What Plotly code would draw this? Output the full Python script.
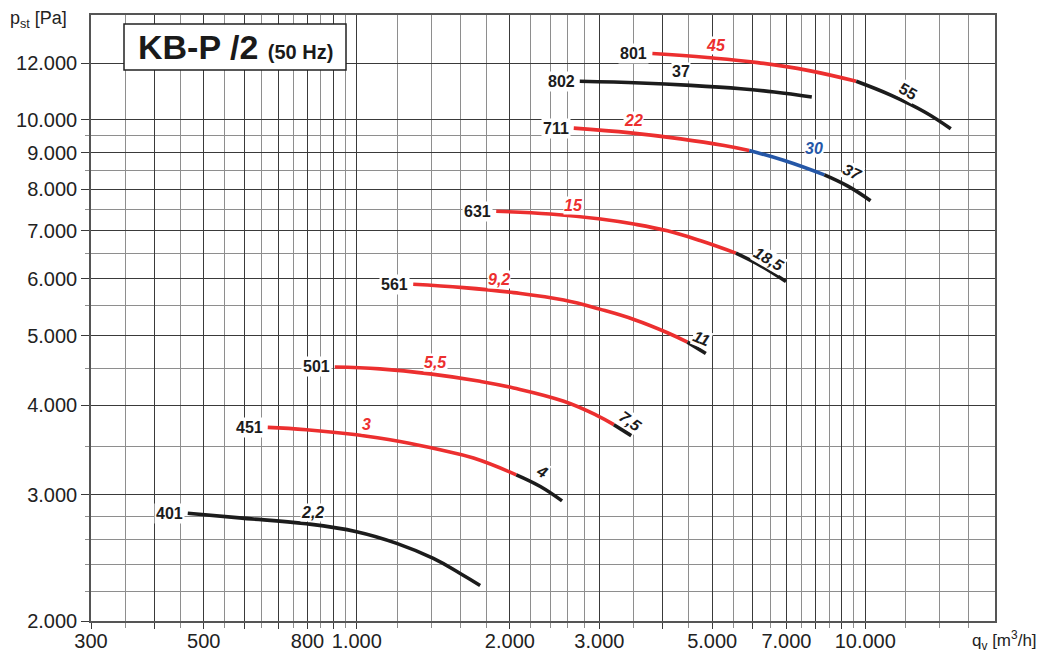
import numpy as np
import plotly.graph_objects as go

# ---------------- grid / tick values ----------------
x_major = [300, 400, 500, 600, 700, 800, 900, 1000, 2000, 3000, 4000, 5000,
           6000, 7000, 8000, 9000, 10000]
x_major_text = ["300", "", "500", "", "", "800", "", "1.000", "2.000", "3.000",
                "", "5.000", "", "7.000", "", "", "10.000"]
x_minor = [350, 450, 550, 650, 750, 850, 950, 1200, 1400, 1600, 1800, 2200,
           2400, 2600, 2800, 3500, 4500, 5500, 6500, 7500, 8500, 9500, 12000,
           14000, 16000]
y_major = [2000, 3000, 4000, 5000, 6000, 7000, 8000, 9000, 10000, 12000]
y_major_text = ["2.000", "3.000", "4.000", "5.000", "6.000", "7.000", "8.000",
                "9.000", "10.000", "12.000"]
y_minor = [2200, 2400, 2600, 2800, 3500, 4500, 5500, 6500, 7500, 8500, 9500]

# ---------------- fan curves (qv in m3/h, pst in Pa) ----------------
q_401 = [465, 588, 796, 999, 1198, 1414, 1597, 1748]
p_401 = [2827, 2785, 2733, 2664, 2566, 2445, 2330, 2242]

q_451 = [668, 796, 999, 1216, 1458, 1696, 2059, 2296, 2533]
p_451 = [3724, 3697, 3637, 3558, 3465, 3375, 3198, 3080, 2941]

q_501 = [905, 1110, 1393, 1748, 2034, 2553, 2971, 3203, 3466]
p_501 = [4522, 4494, 4422, 4318, 4227, 4050, 3868, 3757, 3627]

q_561 = [1291, 1621, 2034, 2553, 3016, 3507, 4083, 4470, 4858]
p_561 = [5897, 5834, 5741, 5606, 5440, 5267, 5047, 4897, 4722]

q_631 = [1880, 2403, 3016, 3507, 4083, 4748, 5567, 6235, 6985]
p_631 = [7454, 7389, 7271, 7155, 7000, 6780, 6516, 6256, 5948]

q_711 = [2671, 3455, 4336, 5279, 5913, 6932, 8312, 9245, 10243]
p_711 = [9736, 9589, 9406, 9205, 9060, 8773, 8378, 8080, 7711]

q_801 = [3814, 4895, 6143, 7709, 9601, 11254, 13092, 14733]
p_801 = [12369, 12211, 12016, 11720, 11315, 10814, 10252, 9714]

q_802 = [2745, 3615, 4537, 5692, 6624, 7851]
p_802 = [11315, 11255, 11168, 11049, 10933, 10758]

RED = "#ec2f2f"
BLUE = "#2557a7"
BLK = "#1c1c1c"

curves = [
    ("401", q_401, p_401, [(0, 7, BLK)]),
    ("451", q_451, p_451, [(0, 6, RED), (6, 8, BLK)]),
    ("501", q_501, p_501, [(0, 7, RED), (7, 8, BLK)]),
    ("561", q_561, p_561, [(0, 7, RED), (7, 8, BLK)]),
    ("631", q_631, p_631, [(0, 6, RED), (6, 8, BLK)]),
    ("711", q_711, p_711, [(0, 4, RED), (4, 6, BLUE), (6, 8, BLK)]),
    ("801", q_801, p_801, [(0, 4, RED), (4, 7, BLK)]),
    ("802", q_802, p_802, [(0, 5, BLK)]),
]

# motor power labels: text, qv, pst, colour, angle, italic
power_labels = [
    ("2,2", 819, 2830, BLK, 0, True),
    ("3", 1045, 3757, RED, 0, True),
    ("4", 2314, 3232, BLK, 30, True),
    ("5,5", 1425, 4581, RED, 0, True),
    ("7,5", 3455, 3797, BLK, 35, True),
    ("9,2", 1900, 5993, RED, 0, True),
    ("11", 4763, 4951, BLK, 22, True),
    ("15", 2664, 7604, RED, 0, True),
    ("18,5", 6475, 6391, BLK, 30, True),
    ("22", 3498, 9977, RED, 0, True),
    ("30", 7933, 9109, BLUE, 0, True),
    ("37", 9456, 8450, BLK, 25, True),
    ("45", 5083, 12704, RED, 0, True),
    ("37", 4336, 11659, BLK, 0, False),
    ("55", 12140, 10950, BLK, 30, False),
]

FONT = "Liberation Sans, Arial, sans-serif"

fig = go.Figure()
for name, q, p, segs in curves:
    for a, b, col in segs:
        fig.add_trace(go.Scatter(
            x=q[a:b + 1], y=p[a:b + 1], mode="lines",
            line=dict(color=col, width=3.6, shape="spline", smoothing=1.2),
            hoverinfo="skip", showlegend=False))

annotations = []
for name, q, p, segs in curves:
    annotations.append(dict(
        x=np.log10(q[0]), y=np.log10(p[0]), xref="x", yref="y",
        text="<b>%s</b>" % name, showarrow=False, xanchor="right",
        yanchor="middle", xshift=-3, bgcolor="white", borderpad=1,
        font=dict(family=FONT, size=16, color=BLK)))

for txt, q, p, col, ang, ital in power_labels:
    t = "<b><i>%s</i></b>" % txt if ital else "<b>%s</b>" % txt
    annotations.append(dict(
        x=np.log10(q), y=np.log10(p), xref="x", yref="y", text=t,
        showarrow=False, textangle=ang, bgcolor="white", borderpad=0,
        font=dict(family=FONT, size=16, color=col)))

# title box
annotations.append(dict(
    x=(124 - 91) / 904 + ((346 - 124) / 904) / 2, y=(621 - 47) / 606,
    xref="paper", yref="paper", showarrow=False, xanchor="center",
    yanchor="middle",
    text="<b>KB-P /2</b> <b><span style='font-size:20px'>(50 Hz)</span></b>",
    font=dict(family=FONT, size=34, color="#1a1a1a")))

# axis titles
annotations.append(dict(
    x=-0.092, y=0.993, xref="paper", yref="paper", showarrow=False,
    xanchor="left", yanchor="middle",
    text="p<sub>st</sub> [Pa]", font=dict(family=FONT, size=18, color="#222")))
annotations.append(dict(
    x=1.049, y=-0.032, xref="paper", yref="paper", showarrow=False,
    xanchor="right", yanchor="middle",
    text="q<sub>v</sub> [m<sup>3</sup>/h]",
    font=dict(family=FONT, size=17, color="#222")))

shapes = [dict(type="rect", xref="paper", yref="paper",
               x0=(124 - 91) / 904, x1=(346 - 91) / 904,
               y0=(621 - 70) / 606, y1=(621 - 24) / 606,
               line=dict(color="#222", width=1.5), fillcolor="white",
               layer="above")]

DARK = "#3a3a3a"
GRAY = "#8e8e8e"

fig.update_xaxes(
    type="log", range=[np.log10(300), np.log10(18000)],
    tickmode="array", tickvals=x_major, ticktext=x_major_text,
    showgrid=True, gridcolor=DARK, gridwidth=1.3,
    ticks="outside", ticklen=6, tickcolor=DARK, tickwidth=1.3,
    ticklabelstandoff=-5,
    tickfont=dict(family=FONT, size=20, color="#222"),
    minor=dict(tickmode="array", tickvals=x_minor, showgrid=True,
               gridcolor=GRAY, gridwidth=1, ticks="outside", ticklen=5,
               tickcolor=GRAY),
    showline=True, linecolor="#555", linewidth=1.6, mirror=True,
    zeroline=False, automargin=False)
fig.update_yaxes(
    type="log", range=[np.log10(2000), np.log10(14000)],
    tickmode="array", tickvals=y_major, ticktext=y_major_text,
    showgrid=True, gridcolor=DARK, gridwidth=1.3,
    ticks="outside", ticklen=8, tickcolor=DARK, tickwidth=1.3,
    tickfont=dict(family=FONT, size=20, color="#222"),
    minor=dict(tickmode="array", tickvals=y_minor, showgrid=True,
               gridcolor=GRAY, gridwidth=1, ticks="outside", ticklen=4,
               tickcolor=GRAY),
    showline=True, linecolor="#555", linewidth=1.6, mirror=True,
    zeroline=False, automargin=False)

fig.update_layout(
    width=1043, height=655,
    margin=dict(l=91, r=48, t=15, b=34, autoexpand=False),
    paper_bgcolor="white", plot_bgcolor="white",
    annotations=annotations, shapes=shapes, showlegend=False)

fig.write_html("out.html", config={"displayModeBar": False},
               post_script="document.body.style.margin='0px';"
                           "document.body.style.overflow='hidden';")
